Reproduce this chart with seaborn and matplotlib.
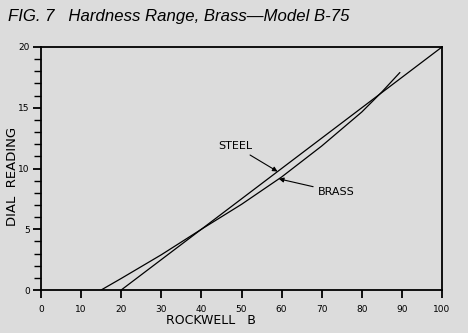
import numpy as np
import pandas as pd
import matplotlib
matplotlib.use("Agg")
import matplotlib.pyplot as plt
import seaborn as sns
from matplotlib.ticker import MultipleLocator

# Data
steel_x = [20, 40, 60, 80, 100]
steel_y = [0, 5, 10, 15, 20]
brass_x = [15, 20, 30, 40, 50, 60, 70, 80, 85, 89.5]
brass_y = [0, 0.95, 2.9, 5.0, 7.05, 9.3, 11.85, 14.65, 16.3, 17.9]
x_ticks = [0, 10, 20, 30, 40, 50, 60, 70, 80, 90, 100]
y_ticks = [0, 5, 10, 15, 20]

title = "FIG. 7   Hardness Range, Brass\u2014Model B-75"

bg = "#dcdcdc"
sns.set_theme(style="ticks")
plt.rcParams["font.family"] = ["DejaVu Sans"]
plt.rcParams["text.color"] = "black"
plt.rcParams["axes.labelcolor"] = "black"
plt.rcParams["xtick.color"] = "black"
plt.rcParams["ytick.color"] = "black"

df = pd.concat([
    pd.DataFrame({"rockwell": steel_x, "dial": steel_y, "metal": "STEEL"}),
    pd.DataFrame({"rockwell": brass_x, "dial": brass_y, "metal": "BRASS"}),
], ignore_index=True)

fig = plt.figure(figsize=(4.68, 3.33), dpi=100, facecolor=bg)
ax = fig.add_axes([41/468, 1-290/333, (442-41)/468, (290-47)/333])
ax.set_facecolor(bg)

sns.lineplot(data=df, x="rockwell", y="dial", units="metal", estimator=None,
             color="black", linewidth=0.9, sort=False, ax=ax, legend=False)

ax.set_xlim(0, 100)
ax.set_ylim(0, 20)
ax.set_xticks(x_ticks)
ax.set_yticks(y_ticks)
ax.yaxis.set_minor_locator(MultipleLocator(1))
ax.tick_params(axis="both", which="major", direction="out", length=6, width=1.3,
               labelsize=6.5, colors="black", labelcolor="black", pad=2)
ax.tick_params(axis="y", which="minor", direction="out", length=5, width=1.0,
               colors="black")
ax.tick_params(axis="x", which="major", pad=5)
for s in ax.spines.values():
    s.set_visible(True)
    s.set_color("black")
    s.set_linewidth(1.3)
ax.set_xlabel("")
ax.set_ylabel("")

fig.text(211/468, 1-320/333, "ROCKWELL   B", ha="center", va="center",
         fontsize=9, color="black")
fig.text(13/468, 1-176/333, "DIAL  READING", ha="center", va="center",
         rotation=90, fontsize=9.5, color="black")

fig.text(8/468, 1-16/333, title, ha="left", va="center", fontsize=12.1,
         style="italic", color="black", family=["Liberation Sans", "DejaVu Sans"])

arrow = dict(arrowstyle="-|>", color="black", lw=0.8, mutation_scale=7,
             shrinkA=1, shrinkB=0)
ax.annotate("STEEL", xy=(59, 9.75), xytext=(48.4, 11.85), ha="center",
            va="center", fontsize=8, color="black", arrowprops=arrow)
ax.annotate("BRASS", xy=(59.3, 9.15), xytext=(73.6, 8.07), ha="center",
            va="center", fontsize=8, color="black", arrowprops=arrow)

fig.savefig("out.png", dpi=100, facecolor=bg)
